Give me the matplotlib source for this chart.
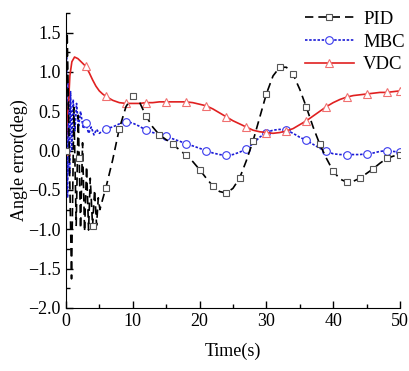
import matplotlib
matplotlib.use("Agg")
import matplotlib.pyplot as plt
from matplotlib.ticker import MultipleLocator

plt.rcParams['font.family'] = ['Liberation Serif', 'DejaVu Serif']

# ---- data ----
pid_t = [0.0, 0.2, 0.85, 1.2, 1.55, 1.85, 2.0, 2.2, 2.5, 2.8, 3.1, 3.4, 3.65, 4.0, 4.3, 4.6, 4.85, 5.1, 5.5,
         6, 7, 8, 9, 10, 11, 12, 13, 14, 15, 16, 17, 18, 19, 20, 21, 22, 23, 24, 25, 26, 27, 28, 29, 30,
         31, 32, 33, 34, 35, 36, 37, 38, 39, 40, 41, 42, 43, 44, 45, 46, 47, 48, 49, 50]
pid_y = [0.0, 1.5, -1.63, 0.55, -0.95, 0.45, -0.10, -0.99, 0.10, -1.03, -0.20, -1.01, -0.35, -0.96, -0.50, -0.95, -0.60, -0.75, -0.62,
         -0.47, -0.12, 0.28, 0.56, 0.69, 0.62, 0.44, 0.30, 0.20, 0.14, 0.08, 0.01, -0.06, -0.14, -0.24, -0.35, -0.45, -0.52, -0.54, -0.48, -0.35, -0.13, 0.12, 0.42, 0.72,
         0.95, 1.06, 1.06, 0.97, 0.78, 0.55, 0.30, 0.08, -0.10, -0.26, -0.36, -0.40, -0.39, -0.35, -0.29, -0.23, -0.16, -0.10, -0.07, -0.05]
pid_mark_t = [0, 2, 4, 6, 8, 10, 12, 14, 16, 18, 20, 22, 24, 26, 28, 30, 32, 34, 36, 38, 40, 42, 44, 46, 48, 50]

mbc_t = [0.0, 0.1, 0.25, 0.4, 0.55, 0.7, 0.9, 1.1, 1.35, 1.6, 1.9, 2.2, 2.6, 3.0, 3.4, 3.8, 4.2, 4.6, 5.0,
         6, 7, 8, 9, 10, 11, 12, 13, 14, 15, 16, 17, 18, 19, 20, 21, 22, 23, 24, 25, 26, 27, 28, 29, 30,
         31, 32, 33, 34, 35, 36, 37, 38, 39, 40, 41, 42, 43, 44, 45, 46, 47, 48, 49, 50]
mbc_y = [0.0, 1.2, -0.6, 0.85, -0.3, 0.75, 0.0, 0.65, 0.25, 0.6, 0.3, 0.5, 0.28, 0.35, 0.22, 0.30, 0.20, 0.27, 0.22,
         0.28, 0.30, 0.34, 0.37, 0.35, 0.31, 0.26, 0.23, 0.21, 0.18, 0.15, 0.12, 0.09, 0.06, 0.03, 0.0, -0.03, -0.05, -0.06, -0.05, -0.02, 0.02, 0.09, 0.17, 0.23,
         0.26, 0.27, 0.26, 0.22, 0.17, 0.13, 0.08, 0.03, -0.01, -0.04, -0.05, -0.05, -0.05, -0.05, -0.04, -0.03, -0.01, 0.0, -0.01, -0.02]
mbc_mark_t = [3, 6, 9, 12, 15, 18, 21, 24, 27, 30, 33, 36, 39, 42, 45, 48, 50]

vdc_t = [0.0, 0.2, 0.4, 0.6, 0.9, 1.3, 1.8, 2.4, 3.0, 3.5, 4.0, 4.5, 5.0, 5.5,
         6, 7, 8, 9, 10, 11, 12, 13, 14, 15, 16, 17, 18, 19, 20, 21, 22, 23, 24, 25, 26, 27, 28, 29, 30,
         31, 32, 33, 34, 35, 36, 37, 38, 39, 40, 41, 42, 43, 44, 45, 46, 47, 48, 49, 50]
vdc_y = [0.0, 0.45, 0.6, 0.95, 1.13, 1.19, 1.17, 1.12, 1.07, 0.99, 0.90, 0.82, 0.76, 0.72,
         0.69, 0.64, 0.61, 0.60, 0.60, 0.60, 0.61, 0.61, 0.62, 0.62, 0.62, 0.62, 0.62, 0.61, 0.59, 0.57, 0.53, 0.48, 0.43, 0.38, 0.34, 0.30, 0.26, 0.24, 0.23,
         0.22, 0.23, 0.25, 0.28, 0.33, 0.38, 0.44, 0.50, 0.56, 0.61, 0.65, 0.68, 0.70, 0.71, 0.72, 0.73, 0.74, 0.74, 0.75, 0.76]
vdc_mark_t = [0, 3, 6, 9, 12, 15, 18, 21, 24, 27, 30, 33, 36, 39, 42, 45, 48, 50]

labels = ["PID", "MBC", "VDC"]
xticks = [0, 10, 20, 30, 40, 50]
yticks = [-2.0, -1.5, -1.0, -0.5, 0.0, 0.5, 1.0, 1.5]

fig = plt.figure(figsize=(4.09, 3.71), dpi=100)
ax = fig.add_axes([0.161, 0.170, 0.817, 0.795])

def idx(ts, marks):
    return [ts.index(m) for m in marks]

ax.plot(pid_t, pid_y, color='black', linestyle=(0, (5, 3)), linewidth=1.2,
        marker='s', markersize=5, markerfacecolor='white', markeredgecolor='#555555',
        markeredgewidth=0.8, markevery=idx(pid_t, pid_mark_t), label=labels[0], zorder=3)
ax.plot(mbc_t, mbc_y, color='#1a1ad6', linestyle=(0, (1.5, 1)), linewidth=1.2,
        marker='o', markersize=5.5, markerfacecolor='white', markeredgecolor='#3a3aee',
        markeredgewidth=0.8, markevery=idx(mbc_t, mbc_mark_t), label=labels[1], zorder=2)
ax.plot(vdc_t, vdc_y, color='#e02020', linestyle='-', linewidth=1.2,
        marker='^', markersize=6, markerfacecolor='white', markeredgecolor='#f07070',
        markeredgewidth=0.8, markevery=idx(vdc_t, vdc_mark_t), label=labels[2], zorder=2)

ax.set_xlim(0, 50)
ax.set_ylim(-2.0, 1.75)
ax.set_xticks(xticks)
ax.set_yticks(yticks)
ax.set_yticklabels([f"{v:.1f}".replace('-', '\u2212') for v in yticks])
ax.xaxis.set_minor_locator(MultipleLocator(5))
ax.yaxis.set_minor_locator(MultipleLocator(0.25))
ax.tick_params(which='both', direction='in', labelsize=13, width=1)
ax.tick_params(which='major', length=5)
ax.tick_params(which='minor', length=3)
ax.spines['top'].set_visible(False)
ax.spines['right'].set_visible(False)
ax.set_xlabel("Time(s)", fontsize=13, labelpad=9)
ax.set_ylabel("Angle error(deg)", fontsize=13, labelpad=0)

ax.legend(loc='upper right', bbox_to_anchor=(1.065, 1.065), frameon=False, fontsize=13.5,
          handlelength=2.6, handletextpad=0.5, labelspacing=0.3)

fig.savefig("out.png", dpi=100)
